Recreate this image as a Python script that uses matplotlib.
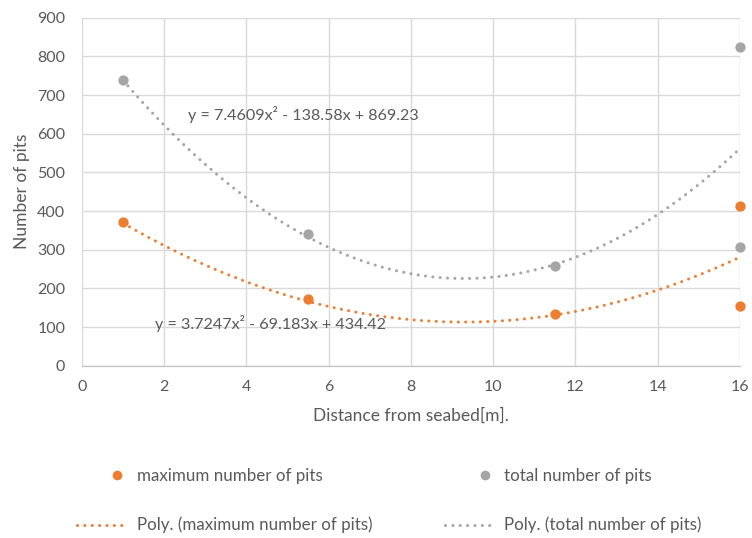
import numpy as np
import matplotlib
matplotlib.use("Agg")
import matplotlib.pyplot as plt
from matplotlib.lines import Line2D
from matplotlib.legend_handler import HandlerLine2D

plt.rcParams['font.family'] = ['Lato', 'DejaVu Sans']

distance = [1, 5.5, 11.5, 16, 16]
max_pits = [372, 172, 134, 413, 155]
total_pits = [740, 341, 259, 824, 307]

# trendline coefficients as printed on the chart (a, b, c for ax^2 + bx + c)
max_coef = [3.7247, -69.183, 434.42]
total_coef = [7.4609, -138.58, 869.23]
max_eq = "y = 3.7247x² - 69.183x + 434.42"
total_eq = "y = 7.4609x² - 138.58x + 869.23"

x_ticks = [0, 2, 4, 6, 8, 10, 12, 14, 16]
y_ticks = [0, 100, 200, 300, 400, 500, 600, 700, 800, 900]

orange = '#ED7D31'
grey = '#A5A5A5'
txt = '#595959'
dots = (0, (0.01, 2.4))


class RightMarkerHandler(HandlerLine2D):
    def get_xdata(self, legend, xdescent, ydescent, width, height, fontsize):
        xd = np.array([0.56 * width - xdescent, width - xdescent])
        return xd, np.array([0.78 * width - xdescent])


fig = plt.figure(figsize=(7.52, 5.38), dpi=100)
ax = fig.add_axes([0.109, 0.320, 0.875, 0.647])

xs = np.linspace(min(distance), max(distance), 300)
ax.plot(xs, np.polyval(max_coef, xs), color=orange, lw=2.2, ls=dots,
        dash_capstyle='round', zorder=2)
ax.plot(xs, np.polyval(total_coef, xs), color=grey, lw=2.2, ls=dots,
        dash_capstyle='round', zorder=2)
ax.scatter(distance, max_pits, s=55, color=orange, zorder=3, clip_on=False, linewidths=0)
ax.scatter(distance, total_pits, s=55, color=grey, zorder=3, clip_on=False, linewidths=0)

ax.text(2.58, 649, total_eq, fontsize=11.6, color=txt, va='center', ha='left')
ax.text(1.78, 109, max_eq, fontsize=11.6, color=txt, va='center', ha='left')

ax.set_xlim(0, 16)
ax.set_ylim(0, 900)
ax.set_xticks(x_ticks)
ax.set_yticks(y_ticks)
ax.grid(True, color='#D9D9D9', lw=1)
ax.set_axisbelow(True)
for s in ['top', 'right', 'left']:
    ax.spines[s].set_visible(False)
ax.spines['bottom'].set_color('#BFBFBF')
ax.tick_params(length=0, colors=txt, labelsize=11.5)
ax.tick_params(axis='y', pad=12)
ax.tick_params(axis='x', pad=10)
ax.set_xlabel("Distance from seabed[m].", fontsize=12.5, color=txt, labelpad=10)
ax.set_ylabel("Number of pits", fontsize=12.5, color=txt, labelpad=5)

h_max = Line2D([], [], ls='none', marker='o', color=orange, markersize=7, markeredgewidth=0)
h_tot = Line2D([], [], ls='none', marker='o', color=grey, markersize=7, markeredgewidth=0)
handles = [
    h_max,
    Line2D([], [], color=orange, lw=2.2, ls=dots, dash_capstyle='round'),
    h_tot,
    Line2D([], [], color=grey, lw=2.2, ls=dots, dash_capstyle='round'),
]
labels = ["maximum number of pits", "Poly. (maximum number of pits)",
          "total number of pits", "Poly. (total number of pits)"]
leg = fig.legend(handles, labels, ncol=2, loc='upper left', bbox_to_anchor=(0.094, 0.143),
                 frameon=False, fontsize=12.2, handlelength=3.0, handletextpad=0.5,
                 columnspacing=4.3, labelspacing=1.95, labelcolor=txt,
                 borderaxespad=0,
                 handler_map={h_max: RightMarkerHandler(), h_tot: RightMarkerHandler()})

fig.savefig("out.png", dpi=100)
